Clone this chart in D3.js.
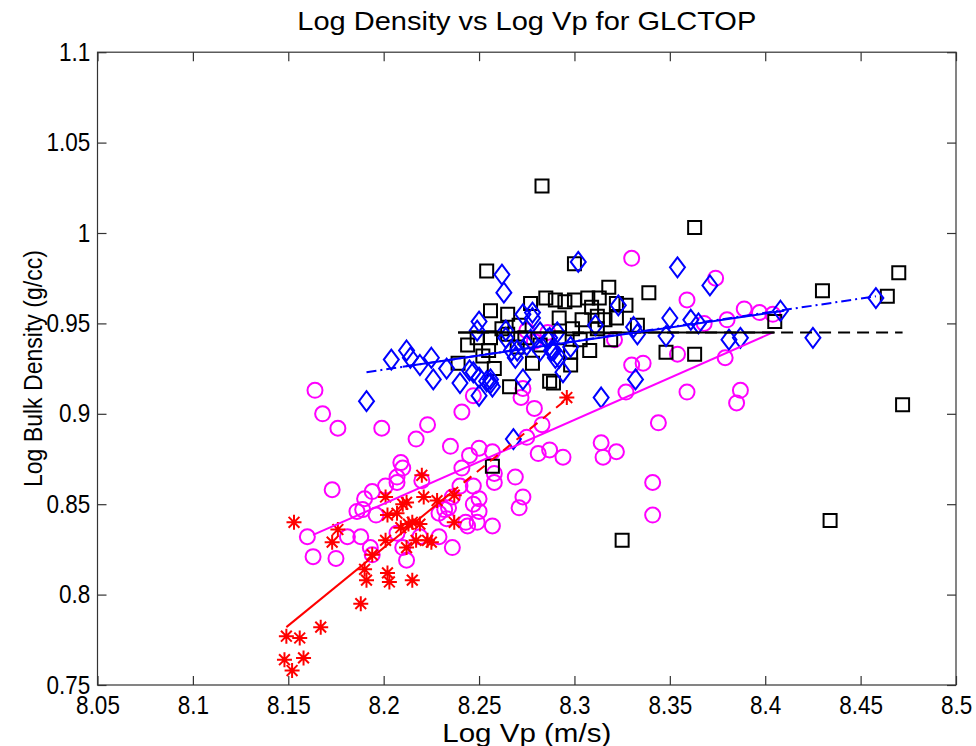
<!DOCTYPE html>
<html>
<head>
<meta charset="utf-8">
<script src="https://cdn.jsdelivr.net/npm/d3@7/dist/d3.min.js"></script>
<style>
  body { margin: 0; background: #fff; }
  text { font-family: "Liberation Sans", Arial, Helvetica, sans-serif; fill: #000; }
</style>
</head>
<body>
<script>

// tick values + labels
var xTicks = [8.05, 8.1, 8.15, 8.2, 8.25, 8.3, 8.35, 8.4, 8.45, 8.5];
var xTickLabels = ["8.05", "8.1", "8.15", "8.2", "8.25", "8.3", "8.35", "8.4", "8.45", "8.5"];
var yTicks = [0.75, 0.8, 0.85, 0.9, 0.95, 1.0, 1.05, 1.1];
var yTickLabels = ["0.75", "0.8", "0.85", "0.9", "0.95", "1", "1.05", "1.1"];

// black squares [log vp, log density]
var squarePts = [
  [8.283,1.026],[8.363,1.003],[8.254,0.979],[8.300,0.983],[8.318,0.970],[8.339,0.967],
  [8.348,0.934],[8.363,0.933],[8.470,0.978],[8.430,0.968],[8.464,0.965],[8.405,0.951],
  [8.472,0.905],[8.434,0.841],[8.325,0.830],[8.257,0.871],
  [8.256,0.957],[8.265,0.955],[8.277,0.961],[8.285,0.964],[8.290,0.963],[8.295,0.962],
  [8.300,0.963],[8.307,0.964],[8.313,0.964],[8.322,0.961],[8.327,0.960],[8.309,0.959],
  [8.312,0.954],[8.304,0.952],[8.322,0.953],[8.316,0.952],[8.312,0.947],[8.292,0.953],
  [8.265,0.944],[8.274,0.942],[8.255,0.935],[8.239,0.928],[8.278,0.928],[8.287,0.918],
  [8.266,0.915],[8.256,0.942],[8.270,0.937],[8.298,0.927],[8.298,0.934],[8.289,0.917],
  [8.262,0.947],[8.282,0.938],[8.303,0.941],[8.319,0.941],[8.249,0.942],[8.244,0.938],
  [8.271,0.949],[8.308,0.935],[8.252,0.932],[8.258,0.925],[8.292,0.942],[8.299,0.947],
  [8.333,0.949]
];

// blue diamonds
var diamondPts = [
  [8.191,0.907],[8.204,0.930],[8.212,0.935],[8.214,0.931],[8.219,0.927],[8.225,0.931],
  [8.226,0.919],[8.233,0.925],[8.240,0.917],[8.247,0.923],[8.250,0.910],[8.254,0.918],
  [8.257,0.915],[8.250,0.951],[8.249,0.946],[8.245,0.924],[8.256,0.919],[8.250,0.920],
  [8.262,0.977],[8.263,0.967],[8.264,0.942],[8.270,0.935],[8.264,0.946],[8.273,0.955],
  [8.278,0.953],[8.278,0.956],[8.277,0.941],[8.282,0.945],[8.286,0.941],[8.288,0.935],
  [8.290,0.931],[8.287,0.942],[8.291,0.945],[8.273,0.919],[8.267,0.935],[8.268,0.886],
  [8.256,0.917],[8.294,0.923],[8.298,0.937],[8.314,0.909],[8.332,0.919],[8.302,0.984],
  [8.323,0.960],[8.311,0.949],[8.331,0.948],[8.333,0.944],[8.350,0.953],[8.348,0.943],
  [8.354,0.981],[8.371,0.971],[8.361,0.952],[8.381,0.941],[8.408,0.957],[8.387,0.942],
  [8.425,0.942],[8.458,0.964],[8.292,0.931],[8.289,0.935],[8.269,0.931],[8.282,0.935],
  [8.275,0.938],[8.365,0.950]
];

// magenta circles
var circlePts = [
  [8.164,0.913],[8.168,0.900],[8.176,0.892],[8.199,0.892],[8.223,0.894],[8.217,0.886],
  [8.235,0.882],[8.241,0.901],[8.250,0.881],[8.209,0.873],[8.210,0.870],[8.245,0.877],
  [8.241,0.870],[8.207,0.865],[8.173,0.858],[8.194,0.857],[8.201,0.860],[8.190,0.853],
  [8.207,0.862],[8.220,0.863],[8.186,0.846],[8.236,0.854],[8.240,0.860],[8.247,0.860],
  [8.250,0.853],[8.234,0.848],[8.229,0.845],[8.243,0.840],[8.249,0.840],[8.257,0.838],
  [8.250,0.846],[8.196,0.844],[8.160,0.832],[8.181,0.832],[8.188,0.832],[8.163,0.821],
  [8.175,0.820],[8.193,0.826],[8.189,0.847],[8.212,0.819],[8.210,0.826],[8.219,0.832],
  [8.229,0.832],[8.236,0.826],[8.232,0.847],[8.233,0.842],[8.247,0.850],[8.244,0.838],
  [8.207,0.834],[8.194,0.822],[8.279,0.903],[8.283,0.894],[8.275,0.887],[8.281,0.878],
  [8.287,0.880],[8.294,0.876],[8.344,0.895],[8.314,0.884],[8.322,0.879],[8.315,0.876],
  [8.341,0.862],[8.341,0.844],[8.257,0.879],[8.258,0.867],[8.258,0.862],[8.269,0.865],
  [8.273,0.854],[8.271,0.848],[8.273,0.914],[8.327,0.912],[8.336,0.928],[8.330,0.927],
  [8.354,0.933],[8.379,0.931],[8.359,0.912],[8.385,0.906],[8.387,0.913],[8.330,0.986],
  [8.374,0.975],[8.359,0.963],[8.380,0.952],[8.368,0.950],[8.321,0.941],[8.389,0.958],
  [8.397,0.956],[8.404,0.955],[8.275,0.946],[8.286,0.945],[8.247,0.910],[8.272,0.909],
  [8.279,0.940]
];

// red asterisks
var starPts = [
  [8.149,0.777],[8.156,0.776],[8.167,0.782],[8.148,0.764],[8.158,0.765],[8.152,0.758],
  [8.188,0.795],[8.190,0.814],[8.191,0.808],[8.202,0.812],[8.203,0.807],[8.215,0.808],
  [8.194,0.822],[8.173,0.829],[8.176,0.836],[8.153,0.840],[8.201,0.830],[8.212,0.826],
  [8.217,0.830],[8.223,0.830],[8.225,0.829],[8.209,0.837],[8.215,0.840],[8.219,0.839],
  [8.210,0.850],[8.220,0.866],[8.201,0.854],[8.221,0.854],[8.228,0.852],[8.237,0.855],
  [8.237,0.840],[8.202,0.844],[8.207,0.845],[8.212,0.851],[8.296,0.909],[8.213,0.839]
];

// fitted lines: [start, end]
var magentaFit = [[8.163,0.833],[8.404,0.945]];
var redFitSolid = [[8.149,0.782],[8.235,0.856]];
var redFitDash = [[8.235,0.856],[8.297,0.909]];
var blackFitSolid = [[8.239,0.945],[8.405,0.945]];
var blackFitDash = [[8.239,0.945],[8.472,0.945]];
var blueFitSolid = [[8.210,0.926],[8.410,0.957]];
var blueFitDashDot = [[8.191,0.923],[8.458,0.965]];

(function(){

  var W = 976, H = 746;
  // plot box (window.top is reserved, so keep these local)
  var pLeft = 97.5, pRight = 956, pTop = 52.2, pBottom = 685;

  var svg = d3.select("body").append("svg")
    .attr("width", W).attr("height", H);

  var x = d3.scaleLinear().domain([8.05, 8.5]).range([pLeft, pRight]);
  var y = d3.scaleLinear().domain([0.75, 1.1]).range([pBottom, pTop]);

  // markers
  var squarePath = function(s){
    var h = s/2;
    return "M" + (-h) + "," + (-h) + "H" + h + "V" + h + "H" + (-h) + "Z";
  }
  var diamondPath = function(w, h){
    return "M0," + (-h/2) + "L" + (w/2) + ",0L0," + (h/2) + "L" + (-w/2) + ",0Z";
  }
  var starPath = function(r){
    var d = r*0.72;
    return "M" + (-r) + ",0H" + r + "M0," + (-r) + "V" + r +
      "M" + (-d) + "," + (-d) + "L" + d + "," + d + "M" + (-d) + "," + d + "L" + d + "," + (-d);
  }
  var place = function(d){ return "translate(" + x(d[0]) + "," + y(d[1]) + ")"; };

  var plot = svg.append("g");

  plot.selectAll(".circ").data(circlePts).enter().append("circle")
    .attr("class", "circ")
    .attr("cx", function(d){ return x(d[0]); })
    .attr("cy", function(d){ return y(d[1]); })
    .attr("r", 7.5)
    .attr("fill", "none").attr("stroke", "#ff00ff").attr("stroke-width", 2);

  plot.selectAll(".star").data(starPts).enter().append("path")
    .attr("class", "star")
    .attr("d", starPath(7.5))
    .attr("transform", place)
    .attr("fill", "none").attr("stroke", "#ff0000").attr("stroke-width", 2);

  plot.selectAll(".sq").data(squarePts).enter().append("path")
    .attr("class", "sq")
    .attr("d", squarePath(13))
    .attr("transform", place)
    .attr("fill", "none").attr("stroke", "#000").attr("stroke-width", 2);

  plot.selectAll(".dia").data(diamondPts).enter().append("path")
    .attr("class", "dia")
    .attr("d", diamondPath(15, 20))
    .attr("transform", place)
    .attr("fill", "none").attr("stroke", "#0000ff").attr("stroke-width", 2);

  // fit lines
  var line = d3.line().x(function(d){ return x(d[0]); }).y(function(d){ return y(d[1]); });

  var addLine = function(pts, color, dash){
    plot.append("path").datum(pts)
      .attr("d", line)
      .attr("fill", "none")
      .attr("stroke", color)
      .attr("stroke-width", 2)
      .attr("stroke-dasharray", dash);
  }
  addLine(magentaFit, "#ff00ff", null);
  addLine(redFitSolid, "#ff0000", null);
  addLine(redFitDash, "#ff0000", "10,7");
  addLine(blackFitDash, "#000", "12,7");
  addLine(blackFitSolid, "#000", null);
  addLine(blueFitDashDot, "#0000ff", "10,4,2,4");
  addLine(blueFitSolid, "#0000ff", null);

  // axes - ticks point inward, box all round
  var axColor = "#333";
  var xAxis = d3.axisBottom(x).tickValues(xTicks)
    .tickFormat(function(d, i){ return xTickLabels[i]; })
    .tickSizeInner(-9).tickSizeOuter(0).tickPadding(11);
  var gx = svg.append("g").attr("transform", "translate(0," + pBottom + ")").call(xAxis);

  var yAxis = d3.axisLeft(y).tickValues(yTicks)
    .tickFormat(function(d, i){ return yTickLabels[i]; })
    .tickSizeInner(-9).tickSizeOuter(0).tickPadding(8);
  var gy = svg.append("g").attr("transform", "translate(" + pLeft + ",0)").call(yAxis);

  var gxTop = svg.append("g").attr("transform", "translate(0," + pTop + ")")
    .call(d3.axisTop(x).tickValues(xTicks).tickSizeInner(-9).tickSizeOuter(0).tickFormat(""));
  var gyRight = svg.append("g").attr("transform", "translate(" + pRight + ",0)")
    .call(d3.axisRight(y).tickValues(yTicks).tickSizeInner(-9).tickSizeOuter(0).tickFormat(""));

  [gx, gy, gxTop, gyRight].forEach(function(g){
    g.select(".domain").remove();
    g.selectAll(".tick line").attr("stroke", axColor).attr("stroke-width", 1.2);
    // labels look a bit tall + narrow in the original
    g.selectAll(".tick text").attr("font-size", 25).attr("fill", "#000")
      .attr("transform", "scale(0.9,1)")
      .attr("font-family", "Liberation Sans, Arial, sans-serif");
  });

  svg.append("rect")
    .attr("x", pLeft).attr("y", pTop)
    .attr("width", pRight - pLeft).attr("height", pBottom - pTop)
    .attr("fill", "none").attr("stroke", axColor).attr("stroke-width", 1.2);

  // title + labels
  svg.append("text")
    .attr("x", (pLeft + pRight)/2).attr("y", 30)
    .attr("text-anchor", "middle").attr("font-size", 26)
    .attr("textLength", 459).attr("lengthAdjust", "spacingAndGlyphs")
    .text("Log Density vs Log Vp for GLCTOP");

  svg.append("text")
    .attr("x", (pLeft + pRight)/2).attr("y", 742)
    .attr("text-anchor", "middle").attr("font-size", 25)
    .attr("textLength", 169).attr("lengthAdjust", "spacingAndGlyphs")
    .text("Log Vp (m/s)");

  svg.append("text")
    .attr("transform", "translate(42," + ((pTop + pBottom)/2) + ") rotate(-90)")
    .attr("text-anchor", "middle").attr("font-size", 26)
    .attr("textLength", 237).attr("lengthAdjust", "spacingAndGlyphs")
    .text("Log Bulk Density (g/cc)");

})();

</script>
</body>
</html>
